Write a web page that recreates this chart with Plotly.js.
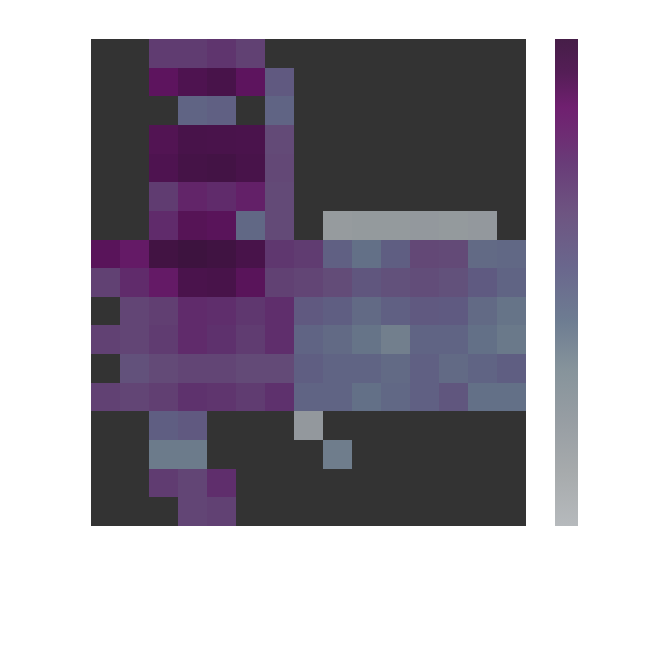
<!DOCTYPE html>
<html>
<head>
<meta charset="utf-8">
<script src="https://cdn.plot.ly/plotly-3.0.1.min.js"></script>
<style>html,body{margin:0;padding:0;background:#fff;}#chart{width:650px;height:650px;}</style>
</head>
<body>
<div id="chart"></div>
<script>
var N = null;
var cols = [0,1,2,3,4,5,6,7,8,9,10,11,12,13,14];
var rows = [0,1,2,3,4,5,6,7,8,9,10,11,12,13,14,15,16];
var row0  = [N,N,0.70,0.70,0.73,0.68,N,N,N,N,N,N,N,N,N];
var row1  = [N,N,0.88,0.92,0.94,0.88,0.55,N,N,N,N,N,N,N,N];
var row2  = [N,N,N,0.49,0.51,N,0.49,N,N,N,N,N,N,N,N];
var row3  = [N,N,0.91,0.94,0.935,0.93,0.64,N,N,N,N,N,N,N,N];
var row4  = [N,N,0.92,0.95,0.96,0.94,0.65,N,N,N,N,N,N,N,N];
var row5  = [N,N,0.70,0.79,0.77,0.81,0.64,N,N,N,N,N,N,N,N];
var row6  = [N,N,0.77,0.90,0.89,0.47,0.64,N,0.15,0.16,0.16,0.17,0.16,0.17,N];
var row7  = [0.89,0.84,0.97,0.99,0.98,0.94,0.72,0.70,0.51,0.43,0.52,0.65,0.64,0.46,0.47];
var row8  = [0.68,0.77,0.84,0.93,0.94,0.89,0.68,0.66,0.63,0.57,0.60,0.62,0.60,0.54,0.49];
var row9  = [N,0.66,0.69,0.77,0.76,0.72,0.76,0.55,0.52,0.46,0.51,0.55,0.54,0.46,0.41];
var row10 = [0.68,0.66,0.70,0.77,0.75,0.70,0.76,0.49,0.46,0.41,0.36,0.49,0.49,0.43,0.39];
var row11 = [N,0.60,0.64,0.66,0.66,0.64,0.64,0.52,0.49,0.49,0.46,0.51,0.46,0.49,0.52];
var row12 = [0.68,0.66,0.69,0.74,0.73,0.70,0.75,0.49,0.49,0.43,0.47,0.51,0.57,0.43,0.43];
var row13 = [N,N,0.52,0.55,N,N,N,0.17,N,N,N,N,N,N,N];
var row14 = [N,N,0.38,0.38,N,N,N,N,0.37,N,N,N,N,N,N];
var row15 = [N,N,0.70,0.66,0.76,N,N,N,N,N,N,N,N,N,N];
var row16 = [N,N,N,0.66,0.68,N,N,N,N,N,N,N,N,N,N];
var zValues = [row0,row1,row2,row3,row4,row5,row6,row7,row8,row9,row10,row11,row12,row13,row14,row15,row16];

var A = 0.95;
function c(r,g,b){ return 'rgba('+r+','+g+','+b+','+A+')'; }
var colorscale = [
  [0.00, c(178,182,185)],
  [0.11, c(162,166,168)],
  [0.22, c(145,152,158)],
  [0.32, c(128,142,150)],
  [0.42, c(102,118,140)],
  [0.53, c(98,95,135)],
  [0.64, c(102,76,123)],
  [0.745, c(97,50,113)],
  [0.80, c(102,34,108)],
  [0.86, c(104,20,104)],
  [0.93, c(76,18,78)],
  [1.00, c(60,18,62)]
];

var trace = {
  type: 'heatmap',
  x: cols,
  y: rows,
  z: zValues,
  zmin: 0, zmax: 1,
  colorscale: colorscale,
  hoverongaps: false,
  colorbar: {
    x: 1.0667, xanchor: 'left', xpad: 0,
    y: 0.5, yanchor: 'middle', ypad: 0,
    len: 1, lenmode: 'fraction',
    thickness: 23,
    outlinewidth: 0,
    showticklabels: false,
    ticks: ''
  }
};

var layout = {
  width: 650, height: 650,
  margin: {l: 91, r: 124, t: 39, b: 124},
  paper_bgcolor: '#ffffff',
  plot_bgcolor: '#333333',
  xaxis: {range: [-0.5, 14.5], showticklabels: false, ticks: '', showgrid: false, zeroline: false, showline: false},
  yaxis: {range: [16.5, -0.5], showticklabels: false, ticks: '', showgrid: false, zeroline: false, showline: false},
  showlegend: false
};

Plotly.newPlot('chart', [trace], layout, {displayModeBar: false, staticPlot: true});
</script>
</body>
</html>
